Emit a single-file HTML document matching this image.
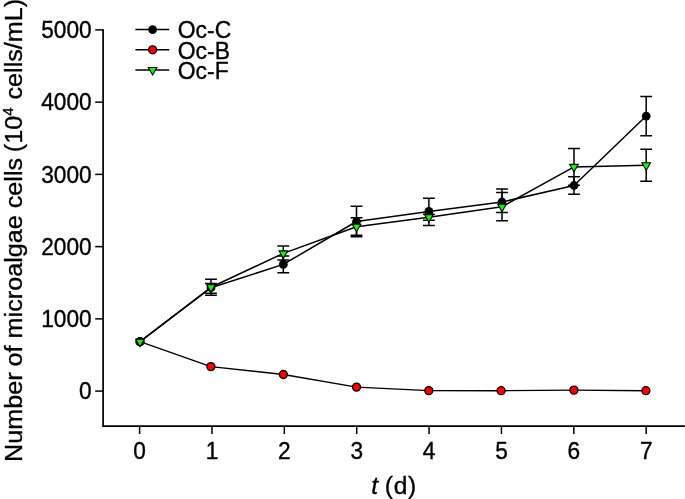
<!DOCTYPE html>
<html><head><meta charset="utf-8"><title>chart</title>
<style>
html,body{margin:0;padding:0;background:#fff;}
body{width:685px;height:499px;overflow:hidden;}
svg{display:block;will-change:transform;}
text{font-family:"Liberation Sans",sans-serif;fill:#000;stroke:#000;stroke-width:0.35px;}
</style></head><body>
<svg width="685" height="499" viewBox="0 0 685 499">
<rect width="685" height="499" fill="#fff"/>

<g stroke="#000" stroke-width="1.7" fill="none" stroke-linecap="butt">
<path d="M103.1 29.15 V426.2 H684.8"/>
<path d="M95.2 391.10 H103.1" stroke-width="1.5"/>
<path d="M95.2 318.86 H103.1" stroke-width="1.5"/>
<path d="M95.2 246.62 H103.1" stroke-width="1.5"/>
<path d="M95.2 174.38 H103.1" stroke-width="1.5"/>
<path d="M95.2 102.14 H103.1" stroke-width="1.5"/>
<path d="M95.2 29.90 H103.1" stroke-width="1.5"/>
<path d="M139.60 426.2 V434.0" stroke-width="1.5"/>
<path d="M211.97 426.2 V434.0" stroke-width="1.5"/>
<path d="M284.34 426.2 V434.0" stroke-width="1.5"/>
<path d="M356.71 426.2 V434.0" stroke-width="1.5"/>
<path d="M429.08 426.2 V434.0" stroke-width="1.5"/>
<path d="M501.45 426.2 V434.0" stroke-width="1.5"/>
<path d="M573.82 426.2 V434.0" stroke-width="1.5"/>
<path d="M646.19 426.2 V434.0" stroke-width="1.5"/>
</g>
<g font-size="22.7">
<text transform="translate(91.7 399.40) scale(1 1.045)" text-anchor="end">0</text>
<text transform="translate(91.7 327.16) scale(1 1.045)" text-anchor="end">1000</text>
<text transform="translate(91.7 254.92) scale(1 1.045)" text-anchor="end">2000</text>
<text transform="translate(91.7 182.68) scale(1 1.045)" text-anchor="end">3000</text>
<text transform="translate(91.7 110.44) scale(1 1.045)" text-anchor="end">4000</text>
<text transform="translate(91.7 38.20) scale(1 1.045)" text-anchor="end">5000</text>
<text transform="translate(139.60 459.1) scale(1 1.045)" text-anchor="middle">0</text>
<text transform="translate(211.97 459.1) scale(1 1.045)" text-anchor="middle">1</text>
<text transform="translate(284.34 459.1) scale(1 1.045)" text-anchor="middle">2</text>
<text transform="translate(356.71 459.1) scale(1 1.045)" text-anchor="middle">3</text>
<text transform="translate(429.08 459.1) scale(1 1.045)" text-anchor="middle">4</text>
<text transform="translate(501.45 459.1) scale(1 1.045)" text-anchor="middle">5</text>
<text transform="translate(573.82 459.1) scale(1 1.045)" text-anchor="middle">6</text>
<text transform="translate(646.19 459.1) scale(1 1.045)" text-anchor="middle">7</text>
</g>
<text transform="translate(371.3 493.5) scale(1 0.98)" font-size="24.6"><tspan font-style="italic">t</tspan><tspan x="13.5" letter-spacing="0.7">(d)</tspan></text>
<text transform="translate(22.3 462.0) rotate(-90) scale(1 0.97)" font-size="25.2">Number<tspan dx="-1"> of</tspan> microalgae cells<tspan dx="5.6">(10</tspan><tspan font-size="15" dy="-9.5">4</tspan><tspan dy="9.5" dx="0.9"> cells/mL)</tspan></text>
<polyline points="140.00,341.70 210.90,366.60 283.40,374.50 356.50,387.10 428.80,390.60 501.10,390.70 573.90,390.10 645.90,390.70" stroke="#000" stroke-width="1.40" fill="none" stroke-linejoin="round"/>
<circle cx="140.00" cy="341.70" r="4.0" fill="#ff0000" stroke="#000" stroke-width="1.3"/>
<circle cx="210.90" cy="366.60" r="4.0" fill="#ff0000" stroke="#000" stroke-width="1.3"/>
<circle cx="283.40" cy="374.50" r="4.0" fill="#ff0000" stroke="#000" stroke-width="1.3"/>
<circle cx="356.50" cy="387.10" r="4.0" fill="#ff0000" stroke="#000" stroke-width="1.3"/>
<circle cx="428.80" cy="390.60" r="4.0" fill="#ff0000" stroke="#000" stroke-width="1.3"/>
<circle cx="501.10" cy="390.70" r="4.0" fill="#ff0000" stroke="#000" stroke-width="1.3"/>
<circle cx="573.90" cy="390.10" r="4.0" fill="#ff0000" stroke="#000" stroke-width="1.3"/>
<circle cx="645.90" cy="390.70" r="4.0" fill="#ff0000" stroke="#000" stroke-width="1.3"/>
<path d="M211.00 283.60 V293.30 M205.10 283.60 H216.90 M205.10 293.30 H216.90 M283.30 256.10 V272.80 M277.40 256.10 H289.20 M277.40 272.80 H289.20 M356.50 206.30 V236.70 M350.60 206.30 H362.40 M350.60 236.70 H362.40 M428.90 198.20 V225.40 M423.00 198.20 H434.80 M423.00 225.40 H434.80 M502.00 189.10 V212.50 M496.10 189.10 H507.90 M496.10 212.50 H507.90 M574.00 176.70 V194.20 M568.10 176.70 H579.90 M568.10 194.20 H579.90 M646.20 96.45 V135.70 M640.30 96.45 H652.10 M640.30 135.70 H652.10" stroke="#000" stroke-width="1.5" fill="none"/>
<polyline points="140.00,341.70 211.00,287.70 283.30,264.40 356.50,221.50 428.90,211.40 502.00,202.00 574.00,185.50 646.20,116.05" stroke="#000" stroke-width="1.50" fill="none" stroke-linejoin="round"/>
<circle cx="140.00" cy="341.70" r="4.4" fill="#000"/>
<circle cx="211.00" cy="287.70" r="4.4" fill="#000"/>
<circle cx="283.30" cy="264.40" r="4.4" fill="#000"/>
<circle cx="356.50" cy="221.50" r="4.4" fill="#000"/>
<circle cx="428.90" cy="211.40" r="4.4" fill="#000"/>
<circle cx="502.00" cy="202.00" r="4.4" fill="#000"/>
<circle cx="574.00" cy="185.50" r="4.4" fill="#000"/>
<circle cx="646.20" cy="116.05" r="4.4" fill="#000"/>
<path d="M211.00 279.20 V295.20 M205.10 279.20 H216.90 M205.10 295.20 H216.90 M283.30 246.00 V260.10 M277.40 246.00 H289.20 M277.40 260.10 H289.20 M356.50 217.80 V235.20 M350.60 217.80 H362.40 M350.60 235.20 H362.40 M428.90 214.30 V220.30 M423.00 214.30 H434.80 M423.00 220.30 H434.80 M502.00 192.60 V220.70 M496.10 192.60 H507.90 M496.10 220.70 H507.90 M574.00 148.60 V185.20 M568.10 148.60 H579.90 M568.10 185.20 H579.90 M646.20 149.30 V181.25 M640.30 149.30 H652.10 M640.30 181.25 H652.10" stroke="#000" stroke-width="1.5" fill="none"/>
<polyline points="140.00,341.70 211.00,287.30 283.30,253.40 356.50,226.70 428.90,217.30 502.00,206.70 574.00,166.90 646.20,165.30" stroke="#000" stroke-width="1.50" fill="none" stroke-linejoin="round"/>
<path d="M135.70 339.22 L144.30 339.22 L140.00 346.67 Z" fill="#00ff00" stroke="#000" stroke-width="1.1" stroke-linejoin="miter"/>
<path d="M206.70 284.82 L215.30 284.82 L211.00 292.27 Z" fill="#00ff00" stroke="#000" stroke-width="1.1" stroke-linejoin="miter"/>
<path d="M279.00 250.92 L287.60 250.92 L283.30 258.37 Z" fill="#00ff00" stroke="#000" stroke-width="1.1" stroke-linejoin="miter"/>
<path d="M352.20 224.22 L360.80 224.22 L356.50 231.67 Z" fill="#00ff00" stroke="#000" stroke-width="1.1" stroke-linejoin="miter"/>
<path d="M424.60 214.82 L433.20 214.82 L428.90 222.27 Z" fill="#00ff00" stroke="#000" stroke-width="1.1" stroke-linejoin="miter"/>
<path d="M497.70 204.22 L506.30 204.22 L502.00 211.67 Z" fill="#00ff00" stroke="#000" stroke-width="1.1" stroke-linejoin="miter"/>
<path d="M569.70 164.42 L578.30 164.42 L574.00 171.87 Z" fill="#00ff00" stroke="#000" stroke-width="1.1" stroke-linejoin="miter"/>
<path d="M641.90 162.82 L650.50 162.82 L646.20 170.27 Z" fill="#00ff00" stroke="#000" stroke-width="1.1" stroke-linejoin="miter"/>
<path d="M135.4 29.60 H169.2" stroke="#000" stroke-width="1.5"/>
<circle cx="152.60" cy="29.60" r="4.4" fill="#000"/>
<text transform="translate(177.8 38.40) scale(1 1.045)" font-size="22.9">Oc-C</text>
<path d="M135.4 49.80 H169.2" stroke="#000" stroke-width="1.5"/>
<circle cx="152.60" cy="49.80" r="4.0" fill="#ff0000" stroke="#000" stroke-width="1.3"/>
<text transform="translate(177.8 58.60) scale(1 1.045)" font-size="22.9">Oc-B</text>
<path d="M135.4 70.00 H169.2" stroke="#000" stroke-width="1.5"/>
<path d="M148.30 67.52 L156.90 67.52 L152.60 74.97 Z" fill="#00ff00" stroke="#000" stroke-width="1.1" stroke-linejoin="miter"/>
<text transform="translate(177.8 78.80) scale(1 1.045)" font-size="22.9">Oc-F</text>
</svg></body></html>
